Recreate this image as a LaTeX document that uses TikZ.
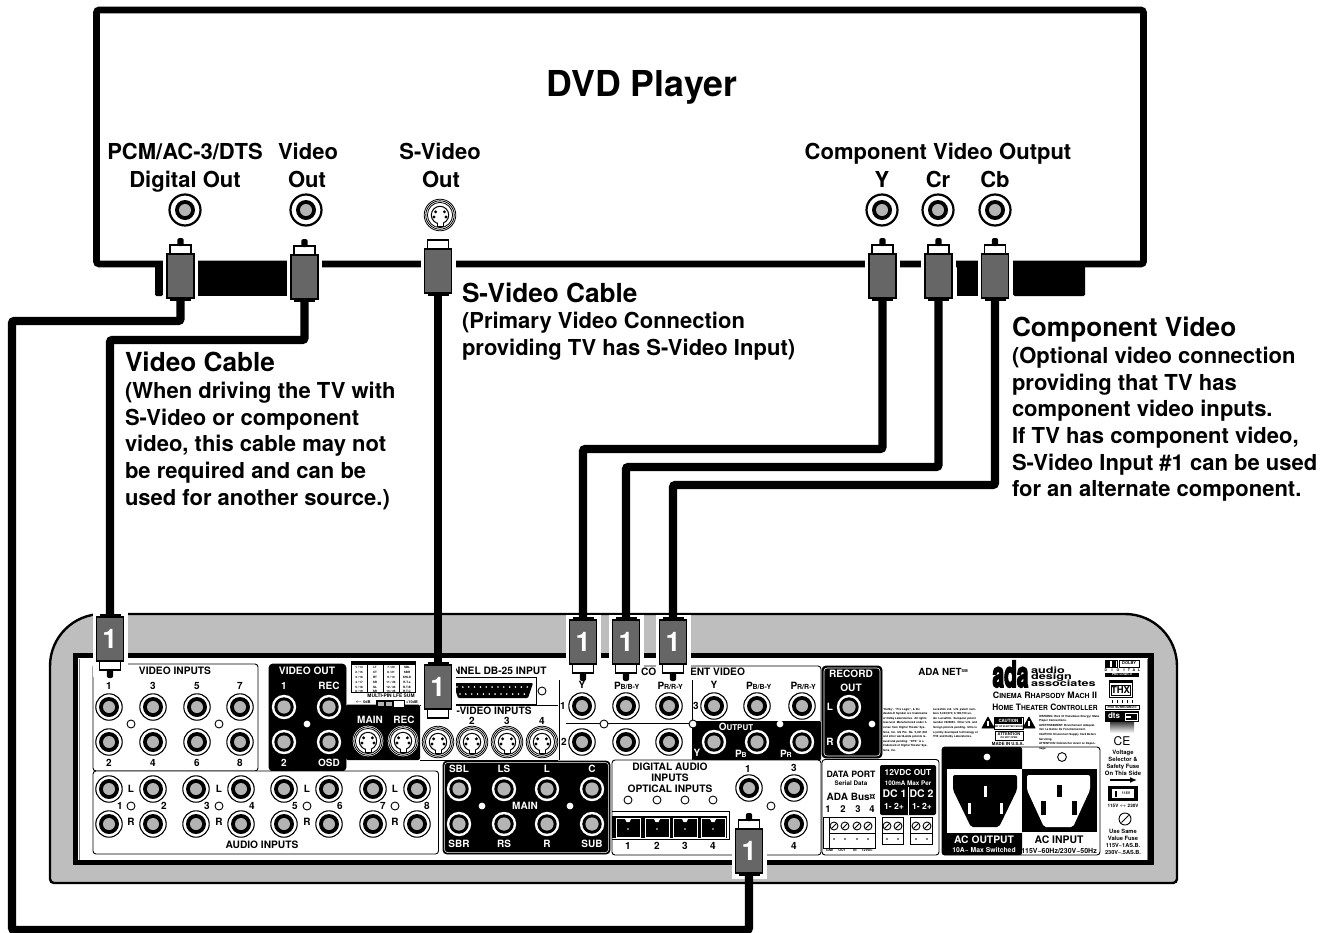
\documentclass[tikz,border=0pt]{standalone}
\usepackage{graphicx}
\usepackage{fontspec}
\setmainfont{TeX Gyre Heros}
\newfontfamily\adafont[FakeBold=5]{TeX Gyre Heros}
\usetikzlibrary{arrows.meta}
\definecolor{panelgray}{HTML}{BEBEBE}
\definecolor{bodygray}{HTML}{666666}
\definecolor{jackgray}{HTML}{B4B4B4}
\newcounter{txtnum}
\newcommand\fs[1]{\fontsize{#1}{#1}\selectfont}
\newcommand\fsl[2]{\fontsize{#1}{#2}\selectfont}
% text, placed by the centre of its capitals: [colour]{x}{y}{size}{text}
\newcommand\Tx[5][black]{\stepcounter{txtnum}\node[lbl,anchor=base,text=#1,font=\bfseries\fs{#4}] (tx\arabic{txtnum}) at (#2,{#3+0.36*#4}) {#5};}
\newcommand\Tw[5][black]{\stepcounter{txtnum}\node[lbl,anchor=base west,text=#1,font=\bfseries\fs{#4}] (tx\arabic{txtnum}) at (#2,{#3+0.36*#4}) {#5};}
\newcommand\scw[2]{{\fs{8.8}#1}{\fs{7}#2}}
% connectors on panels
\newcommand\jack[2]{\draw[line width=1.1,fill=white] (#1,#2) circle (13.2);\fill[black] (#1,#2) circle (10);\fill[jackgray] (#1,#2) circle (6);}
\newcommand\jackB[2]{\fill[white] (#1,#2) circle (12.2);\fill[black] (#1,#2) circle (9.7);\fill[jackgray] (#1,#2) circle (6.6);}
\newcommand\jackT[2]{\draw[line width=2.2,fill=white] (#1,#2) circle (15.5);\fill[black] (#1,#2) circle (10);\fill[jackgray] (#1,#2) circle (6);}
\newcommand\hole[2]{\draw[line width=0.9,fill=white] (#1,#2) circle (4);}
\newcommand\dotw[2]{\fill[white] (#1,#2) circle (3.4);}
\newcommand\svid[2]{%
 \draw[line width=0.8,fill=white] (#1,#2) circle (15.8);
 \draw[line width=0.8] (#1,#2) circle (14.2);
 \draw[line width=0.8] (#1,#2) circle (12.6);
 \draw[line width=1] (#1,#2) circle (8.7);
 \fill[white] (#1-2.5,#2+6) rectangle (#1+2.5,#2+9.6);
 \draw[line width=1] (#1-3,#2+8) -- (#1-3,#2+11) -- (#1+3,#2+11) -- (#1+3,#2+8);
 \fill (#1-4.4,#2-3.2) circle (1.6);\fill (#1+4.4,#2-3.2) circle (1.6);
 \fill (#1-6,#2+2) circle (1.6);\fill (#1+6,#2+2) circle (1.6);
}
\newcommand\screw[2]{\draw[line width=0.9,fill=white] (#1,#2) circle (4);\draw[line width=0.9] (#1-2.6,#2+2.6) -- (#1+2.6,#2-2.6);}
% plug pointing up: name, cx, body top, label, tip(1/0)
\newcommand\plugU[5]{%
 \fill[white] (#2-17.5,#3-9) rectangle (#2+17.5,#3+50);
 \fill[black] (#2-10.5,#3+40) rectangle (#2+10.5,#3+47);
 \draw[line width=1.6,fill=white] (#2-10.5,#3-9) rectangle (#2+10.5,#3);
 \ifnum#5=1 \fill[rounded corners=2.2] (#2-3.2,#3-16) rectangle (#2+3.2,#3-8);\fi
 \node[plugbody] (#1) at (#2,#3+22) {#4};}
% plug pointing down
\newcommand\plugD[5]{%
 \fill[white] (#2-17.5,#3-5) rectangle (#2+17.5,#3+\ifnum#5=1 60\else 54\fi);
 \fill[black] (#2-10.5,#3-3) rectangle (#2+10.5,#3+3);
 \draw[line width=1.6,fill=white] (#2-10.5,#3+44) rectangle (#2+10.5,#3+53);
 \ifnum#5=1 \fill[rounded corners=2.2] (#2-3.2,#3+52) rectangle (#2+3.2,#3+61);\fi
 \node[plugbody] (#1) at (#2,#3+22) {#4};}
\tikzset{
 lbl/.style={inner sep=0pt,outer sep=0pt,align=center},
 captitle/.style={inner sep=0pt,outer sep=0pt,anchor=north west,align=left,font=\bfseries\fsl{26.2}{30}},
 capbody/.style={inner sep=0pt,outer sep=0pt,anchor=north west,align=left,font=\bfseries\fsl{22}{26.7}},
 fine/.style={inner sep=0pt,outer sep=0pt,anchor=north west,align=left,font=\bfseries\fsl{2.8}{4.6}},
 plugbody/.style={rectangle,draw=black,fill=bodygray,line width=1.7,minimum width=27pt,minimum height=44pt,inner sep=0pt,text=white,font=\bfseries\fs{27}},
 cable/.style={draw=black,line width=8.4,rounded corners=2.5},
 thinpanel/.style={draw=black,line width=0.9,fill=white,rounded corners=3},
 blackpanel/.style={draw=black,line width=0.9,fill=black,rounded corners=4},
}
\begin{document}
\begin{tikzpicture}[x=1pt,y=-1pt]
\useasboundingbox (0,0) rectangle (1325,932);
% DVD player box
\draw[line width=6.6,rounded corners=2.5] (96.5,10) rectangle (1143.5,264);
\fill[rounded corners=1.5] (155,261) rectangle (163,296);
\fill (155,261) rectangle (163,267);
\fill (198,261) rectangle (287,296);
\fill (957,261) rectangle (978,296);
\fill[rounded corners=1.5] (1013,261) -- (1085,261) -- (1085,296) -- (1013,296) -- cycle;
\Tx{642}{84}{35.7}{DVD Player}
\Tx{185}{152}{22}{PCM/AC-3/DTS}
\Tx{185}{180}{22}{Digital Out}
\Tx{308}{152}{22}{Video}
\Tx{307}{180}{22}{Out}
\Tx{440}{152}{22}{S-Video}
\Tx{441}{180}{22}{Out}
\Tx{938}{152}{22}{Component Video Output}
\Tx{882}{180}{22}{Y}
\Tx{938}{180}{22}{Cr}
\Tx{995}{180}{22}{Cb}
\jackT{185}{210}\jackT{306}{210}\jackT{882}{210}\jackT{938}{210}\jackT{995}{210}
\svid{440}{215}
\node[captitle] (capS) at (462,283) {S-Video Cable};
\node[capbody] (capSb) at (462,312) {(Primary Video Connection\\providing TV has S-Video Input)};
\node[captitle] (capC) at (1012,317) {Component Video};
\node[capbody] (capCb) at (1012,347) {(Optional video connection\\providing that TV has\\component video inputs.\\If TV has component video,\\S-Video Input \#1 can be used\\for an alternate component.};
\node[captitle] (capV) at (125,352) {Video Cable};
\node[capbody] (capVb) at (125,382) {(When driving the TV with\\S-Video or component\\video, this cable may not\\be required and can be\\used for another source.)};
% receiver body
\draw[line width=2.4,fill=panelgray] (50,883) [rounded corners=52] -- (50,614) -- (1177,614) [rounded corners=4] -- (1177,883) -- cycle;
\draw[line width=5.4,fill=white] (75.5,655.5) rectangle (1151,862.5);
\draw[line width=0.5,draw=gray] (79.5,659) -- (79.5,860);
\draw[line width=0.5,draw=gray] (1147.5,659) -- (1147.5,860);
% video inputs
\draw[thinpanel] (93,664) rectangle (258,771);
\Tx{175}{671}{10.2}{VIDEO INPUTS}
\foreach \x/\a/\b in {109/1/2,153/3/4,197/5/6,240/7/8}{
 \jack{\x}{707}\jack{\x}{742}
 \Tx{\x}{686}{10}{\a}\Tx{\x}{763}{10}{\b}}
\hole{131}{724}\hole{219}{724}
% video out
\draw[blackpanel] (269,664) rectangle (346,771);
\Tx[white]{307}{671}{10.2}{VIDEO OUT}
\Tx[white]{284}{686}{10}{1}\Tx[white]{329}{686}{10}{REC}
\Tx[white]{284}{763}{10}{2}\Tx[white]{329}{763}{10}{OSD}
\jackB{284}{707}\jackB{329}{707}\jackB{284}{742}\jackB{329}{742}
\dotw{307}{724}
% pin table
\draw[line width=0.6] (351,661) rectangle (415,692);
\fill (351,661) rectangle (415,664.5);
\foreach \x in {367,383,399}{\draw[line width=0.3] (\x,661) -- (\x,692);}
\foreach \y/\a/\b/\c/\d in {667/1 \slash{} 14/LT/7 \slash{} 20/SBL,672/2 \slash{} 15/CT/8 \slash{} 21/SBR,677/3 \slash{} 16/RT/9 \slash{} 10/SHLD,682/4 \slash{} 17/SR/11 \slash{} 23/R.T.a,687/5 \slash{} 18/SL/12 \slash{} 24/R.T.B,691/6 \slash{} 19/SR/13 \slash{} 25/R.T.C}{
 \Tx{359}{\y}{3}{\a}\Tx{375}{\y}{3}{\b}\Tx{391}{\y}{3}{\c}\Tx{407}{\y}{3}{\d}}
\Tx{391}{695.5}{4.9}{MULTI-PIN LFE SUM}
\Tx{363}{702}{3.8}{$\leftarrow$ 0dB}
\Tx{412}{702}{3.8}{+10dB}
% main/rec S-video
\fill[rounded corners=2] (346,704.5) rectangle (420,760);
\draw[line width=0.8,fill=white] (376,700) rectangle (404,707);
\fill (376,700) rectangle (394,707);
\fill[jackgray] (378,701.5) rectangle (384,705.5);\fill[jackgray] (386,701.5) rectangle (392,705.5);
\Tx[white]{370}{720}{10}{MAIN}\Tx[white]{404}{720}{10}{REC}
\svid{368}{741}\svid{403}{741}
% S-video inputs / DB25
\Tw{453}{671}{10.2}{NNEL DB-25 INPUT}
\draw[line width=0.8] (453,677.5) rectangle (536,704);
\fill[rounded corners=1] (453,683) -- (533,683) -- (528,698) -- (458,698) -- cycle;
\foreach \i in {0,...,12}{\fill[white] ({457+\i*5.85},687) circle (0.9);}
\foreach \i in {0,...,11}{\fill[white] ({460+\i*5.85},694) circle (0.9);}
\hole{542}{691}
\draw[line width=0.8] (420,705) -- (558,705);
\draw[line width=0.8] (420,760) -- (558,760);
\draw[line width=0.8] (559.5,680) -- (559.5,760);
\Tw{456.5}{710.5}{10.2}{-VIDEO INPUTS}
\Tx{472}{721}{10}{2}\Tx{507}{721}{10}{3}\Tx{542}{721}{10}{4}
\svid{438}{742}\svid{472}{742}\svid{507}{742}\svid{542}{742}
% component panel
\draw[line width=0.9,rounded corners=3] (641,666) -- (821,666) -- (821,721);
\Tw{690}{672}{10.2}{ENT VIDEO}
\draw[line width=0.8] (692.5,680) -- (692.5,760);
\draw[line width=0.8] (566,723.5) -- (692,723.5);
\foreach \x in {626,669,757,802}{\jack{\x}{706}}
\jack{582}{706}\jack{714}{706}
\jack{582}{742}\jack{626}{742}\jack{669}{742}
\Tx{582}{685}{10}{Y}\Tx{714}{685}{10}{Y}
\Tw{614}{686}{10}{P{\fs{7}B/B-Y}}\Tw{657.5}{686}{10}{P{\fs{7}R/R-Y}}
\Tw{746}{685.5}{10}{P{\fs{7}B/B-Y}}\Tw{790.5}{685.5}{10}{P{\fs{7}R/R-Y}}
\Tx{563}{706}{10}{1}\Tx{564}{742}{10}{2}\Tx{696}{706}{10}{3}
\hole{604}{724}
\fill[rounded corners=1] (693,721) rectangle (821,760);
\Tx[white]{736}{727}{10}{O{\fs{8}UTPUT}}
\jackB{714}{742}\jackB{757}{742}\jackB{802}{742}
\Tx[white]{697}{753}{10}{Y}
\Tw[white]{735}{753.5}{10}{P{\fs{7}B}}\Tw[white]{780}{753.5}{10}{P{\fs{7}R}}
\hole{693}{724}
\dotw{780}{724}
% record out
\draw[blackpanel] (822,666) rectangle (882,758);
\draw[line width=0.6,draw=white,rounded corners=3] (824,668) rectangle (880,756);
\Tx[white]{851}{674}{10.1}{RECORD}\Tx[white]{851}{688}{10.1}{OUT}
\jackB{849}{707}\jackB{849}{742}
\Tx[white]{830}{707}{10}{L}\Tx[white]{830}{742}{10}{R}
\dotw{872}{724}
% audio inputs
\draw[thinpanel] (93,771) rectangle (438.5,854);
\foreach \a/\b/\m/\na/\nb/\ha/\hb in {109/153/131/1/2/120/164,196/241/219/3/4/207/252,284/329/307/5/6/295/340,373/417/395/7/8/383/427}{
 \jack{\a}{789}\jack{\b}{789}\jack{\a}{824}\jack{\b}{824}
 \Tx{\m}{789}{10}{L}\Tx{\m}{822}{10}{R}
 \hole{\m}{806}
 \Tx{\ha}{806}{10}{\na}\Tx{\hb}{806}{10}{\nb}}
\Tx{262}{845}{10.2}{AUDIO INPUTS}
% main outputs
\draw[blackpanel] (443,761) rectangle (610,854);
\draw[line width=0.5,draw=white,rounded corners=3] (444.5,762.5) rectangle (608.5,852.5);
\foreach \x/\t/\b in {459/SBL/SBR,504/LS/RS,547/L/R,592/C/SUB}{
 \jackB{\x}{789}\jackB{\x}{824}
 \Tx[white]{\x}{769}{10}{\t}\Tx[white]{\x}{844}{10}{\b}}
\Tx[white]{525}{806}{10}{MAIN}
\dotw{482}{806}\dotw{570}{806}
% digital audio
\draw[thinpanel] (612,760) rectangle (821,855);
\Tx{670}{766.5}{10.2}{DIGITAL AUDIO}
\Tx{670}{778}{10.2}{INPUTS}
\Tx{670}{789}{10.2}{OPTICAL INPUTS}
\draw[line width=0.8] (612,811) -- (729.5,811) -- (729.5,839) -- (612,839);
\fill (612,816) rectangle (727,838);
\foreach \x/\n in {628/1,657/2,685/3,713/4}{
 \hole{\x}{800}
 \draw[line width=1,draw=white] (\x-12,818) rectangle (\x+12,837);
 \fill[white] (\x-3.5,818) -- (\x+3.5,818) -- (\x+1.5,822) -- (\x-1.5,822) -- cycle;
 \fill[white] (\x,829) circle (0.9);
 \Tx{\x}{846}{10}{\n}}
\jack{749}{788}\jack{794}{788}\jack{794}{824}
\Tx{748}{769}{10}{1}\Tx{794}{768}{10}{3}\Tx{794}{846}{10}{4}
\hole{771}{806}
% data port
\draw[thinpanel] (822,759.5) rectangle (939,855);
\Tx{851}{774}{8.7}{DATA PORT}
\Tx{851}{783.5}{6.3}{Serial Data}
\Tx{851}{796.5}{10}{ADA Bus¤}
\foreach \x/\n in {828/1,843/2,858/3,872/4}{\Tx{\x}{809}{9.5}{\n}}
\fill[rounded corners=2] (880,765) rectangle (936,815);
\draw[white,line width=0.8] (908,787) -- (908,815);
\Tx[white]{908}{772}{8.3}{12VDC OUT}
\Tx[white]{908}{783}{6.3}{100mA Max Per}
\Tx[white]{894.5}{794}{10.5}{DC 1}\Tx[white]{921.5}{794}{10.5}{DC 2}
\Tx[white]{894}{806}{8.6}{1- 2+}\Tx[white]{922}{806}{8.6}{1- 2+}
\draw[line width=0.7] (823,817) rectangle (875,848);
\draw[line width=0.7] (829,817) -- (829,848);
\draw[line width=0.7] (829,833) -- (875,833);
\draw[line width=0.7] (882,817) rectangle (903,844);
\draw[line width=0.7] (882,833) -- (903,833);
\draw[line width=0.7] (910,817) rectangle (932,844);
\draw[line width=0.7] (910,833) -- (932,833);
\foreach \x in {834,845,857,868,887,898,916,927}{\screw{\x}{826}\fill (\x,839) circle (0.9);}
\Tx{829.5}{850.5}{3.8}{G{\fs{3.1}ND}}\Tx{842}{850.5}{3.8}{O{\fs{3.1}UT}}\Tx{855}{850.5}{3.8}{I{\fs{3.1}N}}\Tx{867}{850.5}{3.8}{12V{\fs{3.1}DC}}
% AC panel
\draw[thinpanel] (942,747) rectangle (1100,855);
\fill[rounded corners=2] (942,747) rectangle (1022,855);
\dotw{987}{757}
\draw[line width=0.9,fill=white] (1062,757) circle (4.4);
\fill[white] (947,769) rectangle (1022,833);
\fill (1022,769) rectangle (1097,832);
\fill[rounded corners=2] (953,775) -- (1017,775) -- (1017,790) -- (999,827) -- (971,827) -- (953,790) -- cycle;
\fill[white] (984,786) rectangle (987,797);\fill[white] (968,803) rectangle (971,814);\fill[white] (1000,803) rectangle (1003,814);
\fill[white,rounded corners=2] (1027,775) -- (1090,775) -- (1090,790) -- (1073,827) -- (1044,827) -- (1027,790) -- cycle;
\fill (1057,785) rectangle (1062,797);\fill (1041,801) rectangle (1046,815);\fill (1072,801) rectangle (1077,815);
\Tx[white]{984}{840}{10.3}{AC OUTPUT}
\Tx[white]{984}{850.5}{6.8}{10A\textasciitilde{} Max Switched}
\Tx{1059}{840}{10.4}{AC INPUT}
\Tx{1059}{850.5}{7}{115V\textasciitilde60Hz/230V\textasciitilde50Hz}
% logos and small print
\Tx{943}{672}{9.8}{ADA NET{\fs{4}\raisebox{3pt}{SM}}}
\Tx{1010.5}{674}{36}{\scalebox{0.58}[1]{\adafont ada}}
\Tw{1031}{670.3}{8.8}{\scalebox{1.44}[1]{audio}}
\Tw{1031}{676.6}{8.8}{\scalebox{1.44}[1]{design}}
\Tw{1031}{683}{8.8}{\scalebox{1.44}[1]{associates}}
\Tx{1045}{695}{9}{\scw{C}{INEMA} \scw{R}{HAPSODY} \scw{M}{ACH} \scw{II}{}}
\Tx{1045}{707.5}{9}{\scalebox{0.95}[1]{\scw{H}{OME} \scw{T}{HEATER} \scw{C}{ONTROLLER}}}
\node[fine,text width=47pt] (fp1) at (883,708) {``Dolby'', ``Pro Logic'', \& the double-D Symbol are trademarks of Dolby Laboratories. All rights reserved. Manufactured under license from Digital Theater Systems, Inc. US Pat. No. 5,451,942 and other world-wide patents issued and pending. ``DTS'' is a trademark of Digital Theater Systems, Inc.};
\node[fine,text width=45pt] (fp2) at (933,708) {Lucasfilm Ltd. U.S. patent numbers 5,043,970; 5,189,703 under Lucasfilm. European patent number 0323830. Other U.S. and foreign patents pending. Ultra is a jointly developed technology of THX and Dolby Laboratories.};
\node[fine,text width=61pt] (fp3) at (1039,715) {WARNING: Risk Of Hazardous Energy! Make Proper Connections.\\AVERTISSEMENT: Branchement Adequat.\\Voir La Notice De Fonctionnement.\\CAUTION: Disconnect Supply Cord Before Servicing.\\ATTENTION: Debrancher Avant Le Depannage.};
\foreach \x in {988,1029}{\draw[line width=0.8,line join=round,fill=black] (\x,717) -- (\x+6,728) -- (\x-6,728) -- cycle;\fill[white] (\x-0.7,721) rectangle (\x+0.7,725.5);}
\draw[line width=0.6] (994,717) rectangle (1023,729);
\fill (995,718) rectangle (1022,724);
\Tx[white]{1008.5}{721}{4.4}{CAUTION}
\Tx{1008.5}{726.5}{2.4}{RISK OF ELECTRIC SHOCK}
\draw[line width=0.8] (995,731) rectangle (1023,740);
\Tx{1009}{734}{4}{ATTENTION}
\Tx{1009}{738}{2.4}{DO NOT OPEN}
\Tx{1008}{744}{4.3}{MADE IN U.S.A.}
% certification column
\draw[line width=0.8] (1105,660) rectangle (1117,667);
\fill (1106,660.5) rectangle (1110,666.5);\fill (1112,660.5) rectangle (1116,666.5);
\draw[line width=0.7] (1119,660) rectangle (1139,667);
\Tx{1129}{663.5}{4}{DOLBY}
\foreach \x/\c in {1106/D,1112/I,1118/G,1124/I,1129/T,1134/A,1139/L}{\Tx{\x}{670.5}{3.6}{\c}}
\fill (1105,672.5) rectangle (1139,676.5);
\Tx[white]{1122}{674.5}{3.2}{PRO LOGIC II}
\draw[line width=0.8] (1109,680) rectangle (1132,697);
\fill (1109,680) rectangle (1132,683);
\draw[line width=0.5] (1111,685) rectangle (1130,695);
\Tx{1120.5}{690}{9.5}{THX}
\foreach \x in {1112,1117,1122,1127,1132}{\fill (\x,700) rectangle (\x+1,702.5);}
\draw[line width=0.7] (1105,705) rectangle (1139,709.5);
\Tx{1122}{707.3}{3.2}{PRO SURROUND II}
\fill (1105,711) rectangle (1139,722);
\Tx[white]{1114}{716}{8}{dts}
\draw[white,line width=0.8] (1125,713) rectangle (1137,720);
\fill[white] (1125,715.5) rectangle (1131,717.5);
\shade[top color=black!75,bottom color=white] (1110,722) rectangle (1134,733);
\Tx{1122}{741}{12}{\normalfont CE}
\Tx{1123}{752}{5.9}{Voltage}
\Tx{1123}{759}{5.9}{Selector \&}
\Tx{1123}{766}{5.9}{Safety Fuse}
\Tx{1123}{773}{5.9}{On This Side}
\coordinate (arrA) at (1110,780);\coordinate (arrB) at (1137,780);
\draw[line width=1.3,-{Latex[length=7pt,width=6pt]}] (arrA) -- (arrB);
\fill (1108,786) rectangle (1138,801);
\fill[white] (1112,789) rectangle (1134,798);
\fill (1115,790.5) rectangle (1116.5,796.5);
\Tx{1126}{793.5}{3.6}{115V}
\Tx{1123}{806}{4.6}{115V $\leftrightarrow$ 230V}
\draw[line width=0.9] (1125,819) circle (6);
\draw[line width=0.9] (1121.5,822.5) -- (1128.5,815.5);
\Tx{1123}{831}{5.8}{Use Same}
\Tx{1123}{838}{5.8}{Value Fuse}
\Tx{1123}{845}{5.6}{115V\textasciitilde1AS.B.}
\Tx{1123}{852}{5.6}{230V\textasciitilde.5AS.B.}
% plugs
\plugU{pDig}{180.5}{254}{}{1}
\plugU{pVid}{304.5}{255}{}{1}
\plugU{pSv}{438}{249}{}{0}
\plugU{pY}{882.5}{254}{}{1}
\plugU{pCr}{938.5}{254}{}{1}
\plugU{pCb}{995}{254}{}{1}
\plugD{qL}{110}{617}{1}{1}
\plugD{qSv}{438}{665}{1}{0}
\plugD{qY}{583}{620}{1}{1}
\plugD{qPb}{626}{620}{1}{1}
\plugD{qPr}{673}{620}{1}{1}
\plugU{qDig}{749}{829}{1}{1}
\Tw{641}{672}{10.2}{CO}
% cables
\coordinate (a1) at (12,321);\coordinate (a2) at (12,930);
\coordinate (b1) at (110,340);
\coordinate (c1) at (583,449);\coordinate (c2) at (626,467);\coordinate (c3) at (673,485);
\draw[cable] (pDig.south) |- (a1) -- (a2) -| (qDig.south);
\draw[cable] (pVid.south) |- (b1) -- (qL.north);
\draw[cable] (pSv.south) -- (qSv.north);
\draw[cable] (pY.south) |- (c1) -- (qY.north);
\draw[cable] (pCr.south) |- (c2) -- (qPb.north);
\draw[cable] (pCb.south) |- (c3) -- (qPr.north);
\end{tikzpicture}
\end{document}
